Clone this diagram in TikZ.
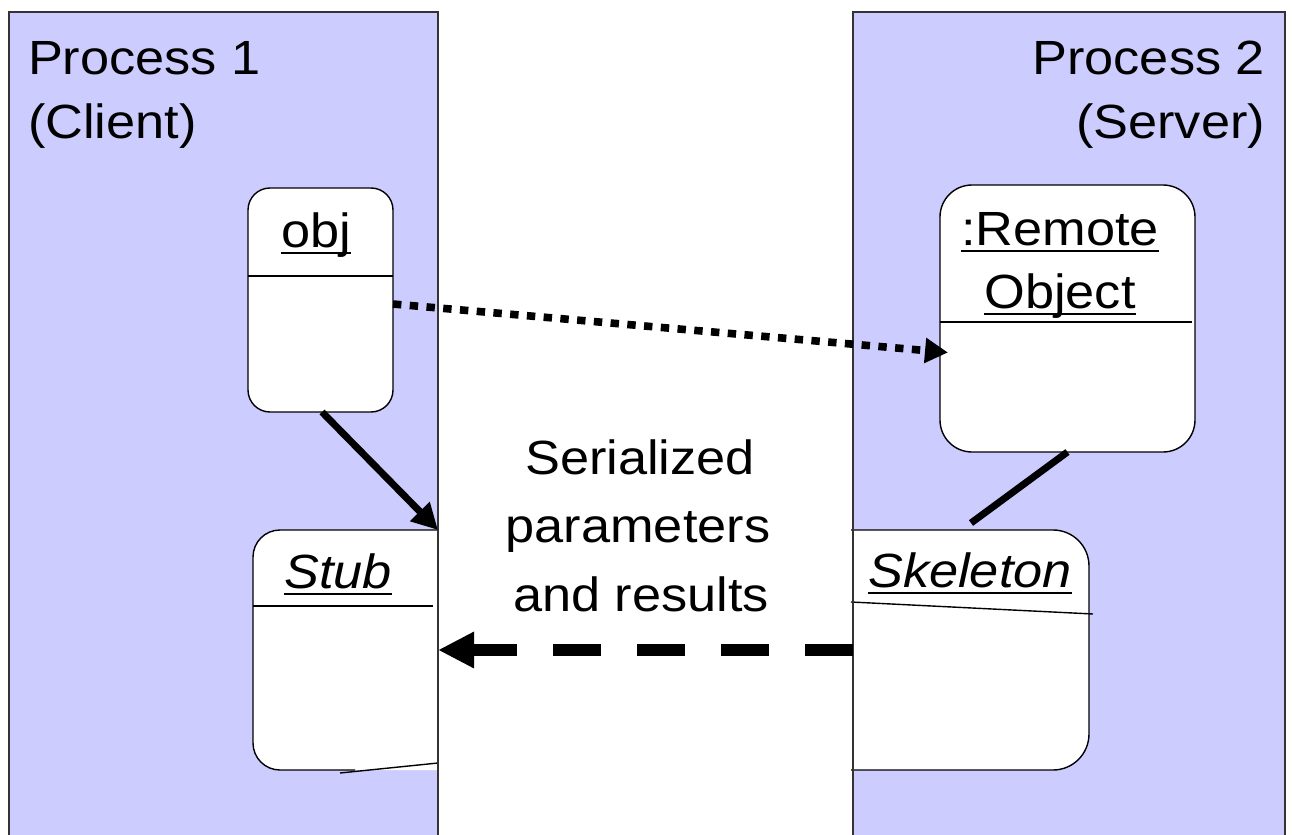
\documentclass[tikz,border=0pt]{standalone}
\usepackage{fontspec}
\setmainfont{Liberation Sans}[FakeStretch=1.09]
\usetikzlibrary{arrows.meta}
\definecolor{procfill}{HTML}{CCCCFF}
\definecolor{procline}{HTML}{333333}
\newcommand\myul[1]{\setbox0\hbox{#1}\rlap{\vrule height -2.6pt depth 3.6pt width \wd0}\box0}
\begin{document}
\begin{tikzpicture}[x=0.5pt,y=-0.5pt,
  proc/.style={draw=procline,line width=1pt,fill=procfill,rectangle,inner sep=0pt,outer sep=0pt},
  lbl/.style={font=\fontsize{24}{31}\selectfont,inner sep=0pt,outer sep=0pt},
  obox/.style={draw=black,line width=0.7pt,fill=white,rectangle,inner sep=0pt,outer sep=0pt},
  hold/.style={rectangle,inner sep=0pt,outer sep=0pt},
  part/.style={draw=black,line width=0.7pt},
  border/.style={draw=procline,line width=1pt},
  solidconn/.style={line width=3.5pt,black},
  dotconn/.style={line width=3.8pt,black,dash pattern=on 4.2pt off 4.2pt},
  dashconn/.style={line width=6pt,black,dash pattern=on 24pt off 18pt},
]
\useasboundingbox (0,0) rectangle (1292,835);
\clip (0,0) rectangle (1292,835);
\fill[white] (0,0) rectangle (1292,835);
% process lanes
\node[proc,minimum width=214.5pt,minimum height=419pt] (p1) at (223.5,431) {};
\node[proc,minimum width=216pt,minimum height=419pt] (p2) at (1069,431) {};
\node[lbl,anchor=base west] (p1a) at (28,75) {Process 1};
\node[lbl,anchor=base west] (p1b) at (28,138) {(Client)};
\node[lbl,anchor=base east] (p2a) at (1265,75) {Process 2};
\node[lbl,anchor=base east] (p2b) at (1265,138) {(Server)};
% obj
\node[obox,rounded corners=11pt,minimum width=72.5pt,minimum height=112pt] (obj) at (320.5,300) {};
\draw[part] (248,276) -- (393,276);
\node[lbl,anchor=base] (objl) at (316,247) {\myul{obj}};
% remote object
\node[obox,rounded corners=16pt,minimum width=127.5pt,minimum height=133.5pt] (remote) at (1067.5,318.5) {};
\draw[part] (940,322) -- (1192,322);
\node[lbl,anchor=base] (rem1) at (1060,245) {\myul{:Remote}};
\node[lbl,anchor=base] (rem2) at (1060,308) {\myul{Object}};
% stub
\node[hold,minimum width=92.5pt,minimum height=120pt] (stub) at (345.5,650) {};
\fill[white] (345,530) [rounded corners=13.5pt] -- (253,530) -- (253,770) -- (345,770) [sharp corners] -- (438,770) -- (438,530) -- cycle;
\draw[part] (438,530) -- (345,530) [rounded corners=13.5pt] -- (253,530) -- (253,770) -- (355,770);
\draw[part] (253,606) -- (433,606);
\draw[part] (340,773) -- (438,763);
\node[lbl,anchor=base] (stubl) at (338,588) {\myul{\itshape Stub}};
% skeleton
\node[hold,minimum width=118pt,minimum height=120pt] (skel) at (971,650) {};
\fill[white] (853,530) -- (980,530) [rounded corners=18pt] -- (1089,530) -- (1089,770) -- (980,770) [sharp corners] -- (853,770) -- cycle;
\draw[part] (851,530) -- (980,530) [rounded corners=18pt] -- (1089,530) -- (1089,770) -- (980,770) [sharp corners] -- (851,770);
\draw[part] (851,602) -- (1093,614);
\node[lbl,anchor=base] (skell) at (970,587) {\myul{\itshape Skeleton}};
% lane borders on top
\draw[border] (p1.north east) -- (p1.south east);
\draw[border] (p2.north west) -- (p2.south west);
% middle label
\node[lbl,anchor=base] (ser1) at (640,474) {Serialized};
\node[lbl,anchor=base] (ser2) at (638,542) {parameters};
\node[lbl,anchor=base] (ser3) at (641,611) {and results};
% connectors
\draw[solidconn,-{Triangle[length=13pt,width=13pt]}] ([xshift=0.75pt]obj.south) -- (stub.north east);
\draw[dotconn,-{Triangle[length=11.5pt,width=12pt]}] ([yshift=-2pt]obj.east) -- ([xshift=4pt,yshift=-17pt]remote.west);
\draw[solidconn] (remote.south) -- ([yshift=3.5pt]skel.north);
\draw[dashconn,-{Triangle[length=18pt,width=17pt]}] (skel.west) -- (stub.east);
\end{tikzpicture}
\end{document}
